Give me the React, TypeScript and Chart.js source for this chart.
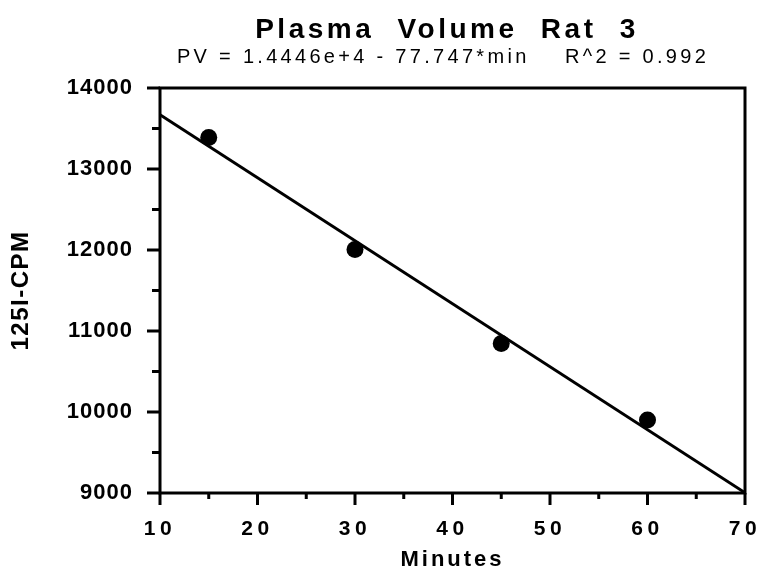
import React, { useEffect, useRef } from "react";
import { Chart, registerables } from "chart.js";

Chart.register(...registerables);

const titleText = "Plasma Volume Rat 3";
const subtitleText = "PV = 1.4446e+4 - 77.747*min    R^2 = 0.992";
const xAxisLabel = "Minutes";
const yAxisLabel = "125I-CPM";

const minutes = [15, 30, 45, 60];
const cpm = [13390, 12005, 10845, 9900];

const fitMinutes = [10, 70];
const fitCpm = [13669, 9004];

const xMajorTicks = [10, 20, 30, 40, 50, 60, 70];
const xMinorTicks = [15, 25, 35, 45, 55, 65];
const yMajorTicks = [9000, 10000, 11000, 12000, 13000, 14000];
const yMinorTicks = [9500, 10500, 11500, 12500, 13500];

const FONT = "'Liberation Sans', Arial, Helvetica, sans-serif";

const framePlugin = {
  id: "frameTicks",
  beforeDatasetsDraw(chart: any) {
    const { ctx, chartArea } = chart;
    const xs = chart.scales.x;
    const ys = chart.scales.y;
    ctx.save();
    ctx.strokeStyle = "#000";
    ctx.lineWidth = 3;
    ctx.lineCap = "butt";
    ctx.strokeRect(chartArea.left, chartArea.top, chartArea.right - chartArea.left, chartArea.bottom - chartArea.top);
    ctx.beginPath();
    for (const v of yMajorTicks) {
      const p = ys.getPixelForValue(v);
      ctx.moveTo(chartArea.left - 13, p);
      ctx.lineTo(chartArea.left, p);
    }
    for (const v of yMinorTicks) {
      const p = ys.getPixelForValue(v);
      ctx.moveTo(chartArea.left - 8, p);
      ctx.lineTo(chartArea.left, p);
    }
    for (const v of xMajorTicks) {
      const p = xs.getPixelForValue(v);
      ctx.moveTo(p, chartArea.bottom);
      ctx.lineTo(p, chartArea.bottom + 12);
    }
    for (const v of xMinorTicks) {
      const p = xs.getPixelForValue(v);
      ctx.moveTo(p, chartArea.bottom);
      ctx.lineTo(p, chartArea.bottom + 6);
    }
    ctx.stroke();
    ctx.restore();
  },
};

const titlePlugin = {
  id: "customTitle",
  afterDraw(chart: any) {
    const ctx = chart.ctx as any;
    ctx.save();
    ctx.fillStyle = "#000";
    ctx.textAlign = "center";
    ctx.textBaseline = "middle";
    ctx.font = `bold 28px ${FONT}`;
    ctx.letterSpacing = "3.5px";
    ctx.wordSpacing = "12px";
    ctx.fillText(titleText, 447, 30);
    ctx.font = `20px ${FONT}`;
    ctx.letterSpacing = "3.3px";
    ctx.wordSpacing = "0px";
    ctx.fillText(subtitleText, 443, 57);
    ctx.restore();
  },
};

const spacingPlugin = {
  id: "axisSpacing",
  afterLayout(chart: any) {
    const spacing: Record<string, { labels: string; title: string }> = {
      x: { labels: "4.5px", title: "3px" },
      y: { labels: "1px", title: "1.5px" },
    };
    for (const id of ["x", "y"]) {
      const s: any = chart.scales[id];
      if (!s || s.__wrapped) continue;
      s.__wrapped = true;
      const dl = s.drawLabels.bind(s);
      s.drawLabels = (ca: any) => {
        const c: any = chart.ctx;
        c.save();
        c.letterSpacing = spacing[id].labels;
        dl(ca);
        c.restore();
      };
      const dt = s.drawTitle.bind(s);
      s.drawTitle = (ca: any) => {
        const c: any = chart.ctx;
        c.save();
        c.letterSpacing = spacing[id].title;
        dt(ca);
        c.restore();
      };
    }
  },
};

export default function App() {
  const ref = useRef<HTMLCanvasElement | null>(null);
  useEffect(() => {
    document.body.style.margin = "0";
    document.body.style.background = "#fff";
    if (!ref.current) return;
    const chart = new Chart(ref.current, {
      type: "scatter",
      data: {
        datasets: [
          {
            label: "Data",
            data: minutes.map((m, i) => ({ x: m, y: cpm[i] })),
            backgroundColor: "#000",
            borderColor: "#000",
            pointRadius: 8.5,
            pointHoverRadius: 8.5,
            borderWidth: 0,
          },
          {
            label: "Fit",
            data: fitMinutes.map((m, i) => ({ x: m, y: fitCpm[i] })),
            showLine: true,
            borderColor: "#000",
            backgroundColor: "#000",
            borderWidth: 3,
            pointRadius: 0,
            pointHoverRadius: 0,
          },
        ],
      },
      options: {
        animation: false,
        responsive: false,
        devicePixelRatio: 1,
        layout: { padding: { top: 88, right: 17, left: 0, bottom: 0 } },
        plugins: {
          legend: { display: false },
          title: { display: false },
          tooltip: { enabled: false },
        },
        scales: {
          x: {
            type: "linear",
            min: 10,
            max: 70,
            grid: { display: false, drawTicks: false },
            border: { display: false },
            afterFit: (s: any) => {
              s.height = 80;
              s.paddingLeft = 0;
              s.paddingRight = 0;
            },
            ticks: {
              stepSize: 10,
              color: "#000",
              padding: 24,
              font: { family: FONT, size: 21, weight: "bold" },
              maxRotation: 0,
              callback: (v: any) => String(v),
            },
            title: {
              display: true,
              text: xAxisLabel,
              color: "#000",
              font: { family: FONT, size: 22, weight: "bold" },
              padding: { top: 0, bottom: 0 },
            },
          },
          y: {
            type: "linear",
            min: 9000,
            max: 14000,
            grid: { display: false, drawTicks: false },
            border: { display: false },
            afterFit: (s: any) => {
              s.width = 160;
              s.paddingTop = 0;
              s.paddingBottom = 0;
            },
            ticks: {
              stepSize: 1000,
              color: "#000",
              padding: 27,
              font: { family: FONT, size: 22, weight: "bold" },
              callback: (v: any) => String(v),
            },
            title: {
              display: true,
              text: yAxisLabel,
              color: "#000",
              font: { family: FONT, size: 24, weight: "bold" },
              padding: { top: 7, bottom: 0 },
            },
          },
        },
      },
      plugins: [framePlugin, titlePlugin, spacingPlugin],
    });
    chart.draw();
    return () => chart.destroy();
  }, []);
  return (
    <div style={{ width: 762, height: 573 }}>
      <canvas ref={ref} width={762} height={573} style={{ display: "block" }} />
    </div>
  );
}
